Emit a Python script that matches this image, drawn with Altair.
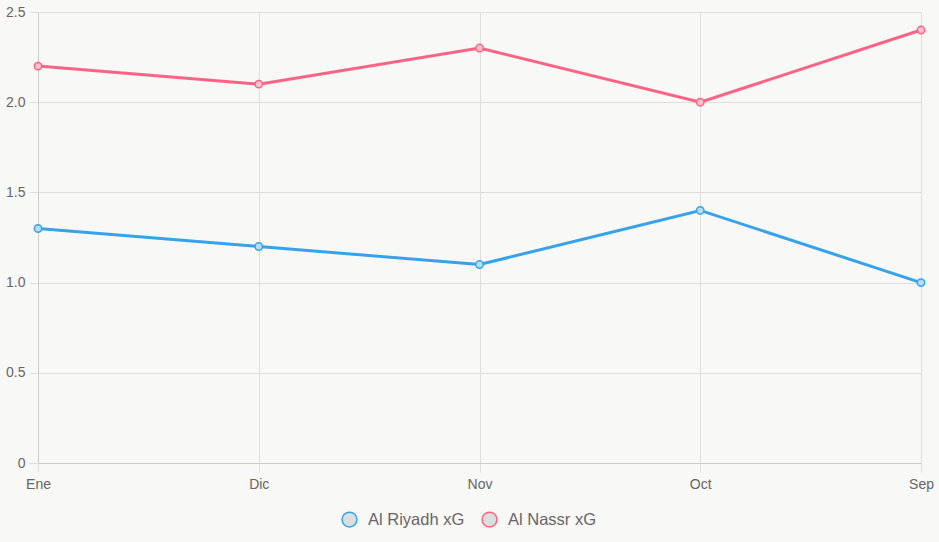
import altair as alt
import pandas as pd

months = ["Ene", "Dic", "Nov", "Oct", "Sep"]
series_names = ["Al Riyadh xG", "Al Nassr xG"]
riyadh = [1.3, 1.2, 1.1, 1.4, 1.0]
nassr = [2.2, 2.1, 2.3, 2.0, 2.4]
colors = ["#36a2eb", "#ff6384"]
point_fills = ["#b9dcf5", "#ffc1ce"]
y_ticks = [0, 0.5, 1.0, 1.5, 2.0, 2.5]

rows = []
for m, v in zip(months, riyadh):
    rows.append({"month": m, "series": series_names[0], "value": v})
for m, v in zip(months, nassr):
    rows.append({"month": m, "series": series_names[1], "value": v})
df = pd.DataFrame(rows)

FONT = "Liberation Sans"
GRID = "#dedede"

x = alt.X("month:N", sort=months, title=None,
          scale=alt.Scale(type="point", padding=0),
          axis=alt.Axis(labelAngle=0, grid=True, gridColor=GRID, tickColor=GRID,
                        tickSize=9, domainColor="#cccccc", labelPadding=5,
                        labelFontSize=14, labelColor="#666666", labelFont=FONT))
y = alt.Y("value:Q", title=None,
          scale=alt.Scale(domain=[0, 2.5], nice=False),
          axis=alt.Axis(values=y_ticks, grid=True, gridColor=GRID, tickColor=GRID,
                        tickSize=9, domainColor="#cccccc", labelPadding=4,
                        labelFontSize=14, labelColor="#666666", labelFont=FONT,
                        labelExpr="datum.value == 0 ? '0' : format(datum.value, '.1f')"))
color = alt.Color("series:N", sort=series_names,
                  scale=alt.Scale(domain=series_names, range=colors),
                  legend=alt.Legend(title=None, orient="none", direction="horizontal",
                                    legendX=303, legendY=499, symbolType="circle",
                                    symbolSize=220, symbolFillColor="#dddddd",
                                    symbolStrokeWidth=1.5, labelFontSize=16.5,
                                    labelColor="#666666", labelFont=FONT,
                                    labelOffset=10, columnPadding=14, padding=0))

base = alt.Chart(df)
lines = base.mark_line(strokeWidth=3).encode(x=x, y=y, color=color)
points = base.mark_point(filled=False, size=55, strokeWidth=1.5, opacity=1).encode(
    x=x, y=y,
    color=alt.Color("series:N", sort=series_names,
                    scale=alt.Scale(domain=series_names, range=colors), legend=None),
    fill=alt.condition(f"datum.series == '{series_names[0]}'",
                       alt.value(point_fills[0]), alt.value(point_fills[1])))

chart = alt.layer(lines, points).properties(
    width=883, height=451,
    autosize=alt.AutoSizeParams(type="none"),
    padding={"left": 38, "top": 12, "right": 18, "bottom": 79},
    background="#f8f8f6",
).configure_view(stroke=None)

chart.save("out.html", embed_options={"renderer": "svg", "actions": False})
